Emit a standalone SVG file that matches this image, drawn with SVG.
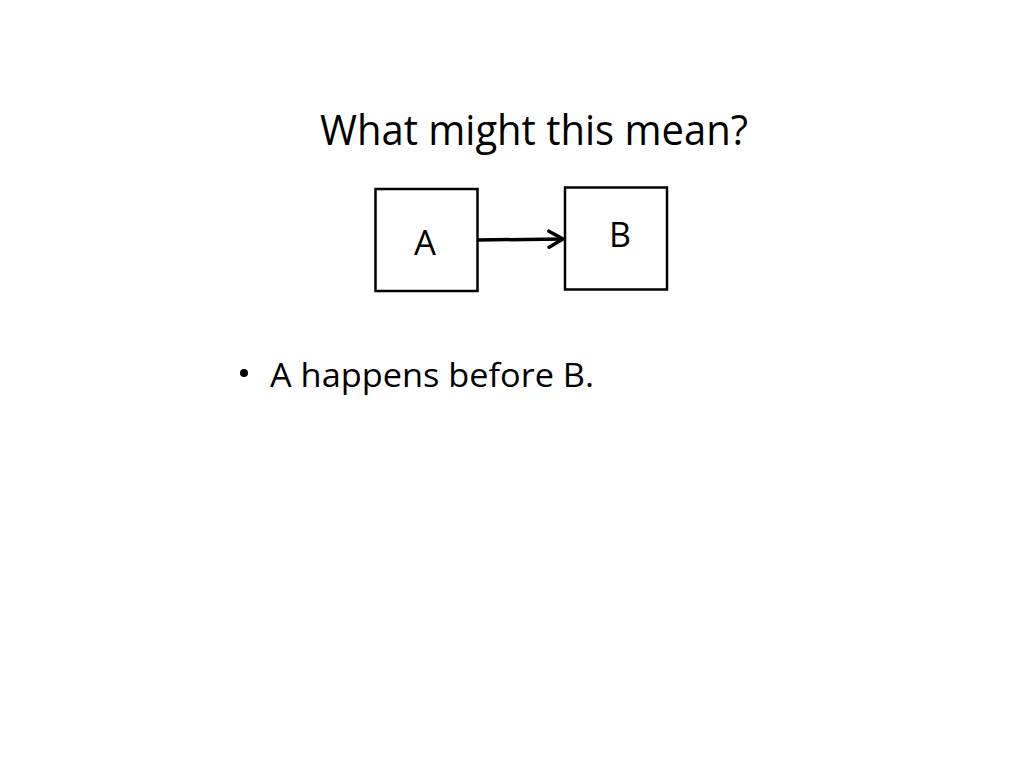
<svg xmlns="http://www.w3.org/2000/svg" width="1024" height="768" viewBox="0 0 1024 768">
<style>
text{font-family:"Open Sans","Liberation Sans",sans-serif;fill:#000}
.box{fill:#fff;stroke:#000;stroke-width:2.5}
.lbl{font-size:34px;text-anchor:middle}
</style>
<defs>
<marker id="arr" markerWidth="20" markerHeight="20" refX="17" refY="10" orient="auto" markerUnits="userSpaceOnUse" viewBox="0 0 20 20">
<path d="M3,2 L17,10 L3,18" fill="none" stroke="#000" stroke-width="3.5" stroke-linecap="round" stroke-linejoin="round"/>
</marker>
</defs>
<rect width="1024" height="768" fill="#fff"/>
<text x="320" y="145" font-size="42" textLength="428" lengthAdjust="spacingAndGlyphs">What might this mean?</text>
<g id="nodeA"><rect class="box" x="375.5" y="189" width="102" height="102"/><text class="lbl" x="425" y="255" textLength="22" lengthAdjust="spacingAndGlyphs">A</text></g>
<g id="nodeB"><rect class="box" x="565" y="187.5" width="102" height="102"/><text class="lbl" x="620" y="247" font-size="32">B</text></g>
<g id="connectors"><line x1="478" y1="240" x2="563" y2="239" stroke="#000" stroke-width="3.5" marker-end="url(#arr)"/></g>
<circle cx="244" cy="373" r="4" fill="#000"/>
<text x="270" y="387" font-size="32" textLength="324" lengthAdjust="spacingAndGlyphs">A happens before B.</text>
</svg>
